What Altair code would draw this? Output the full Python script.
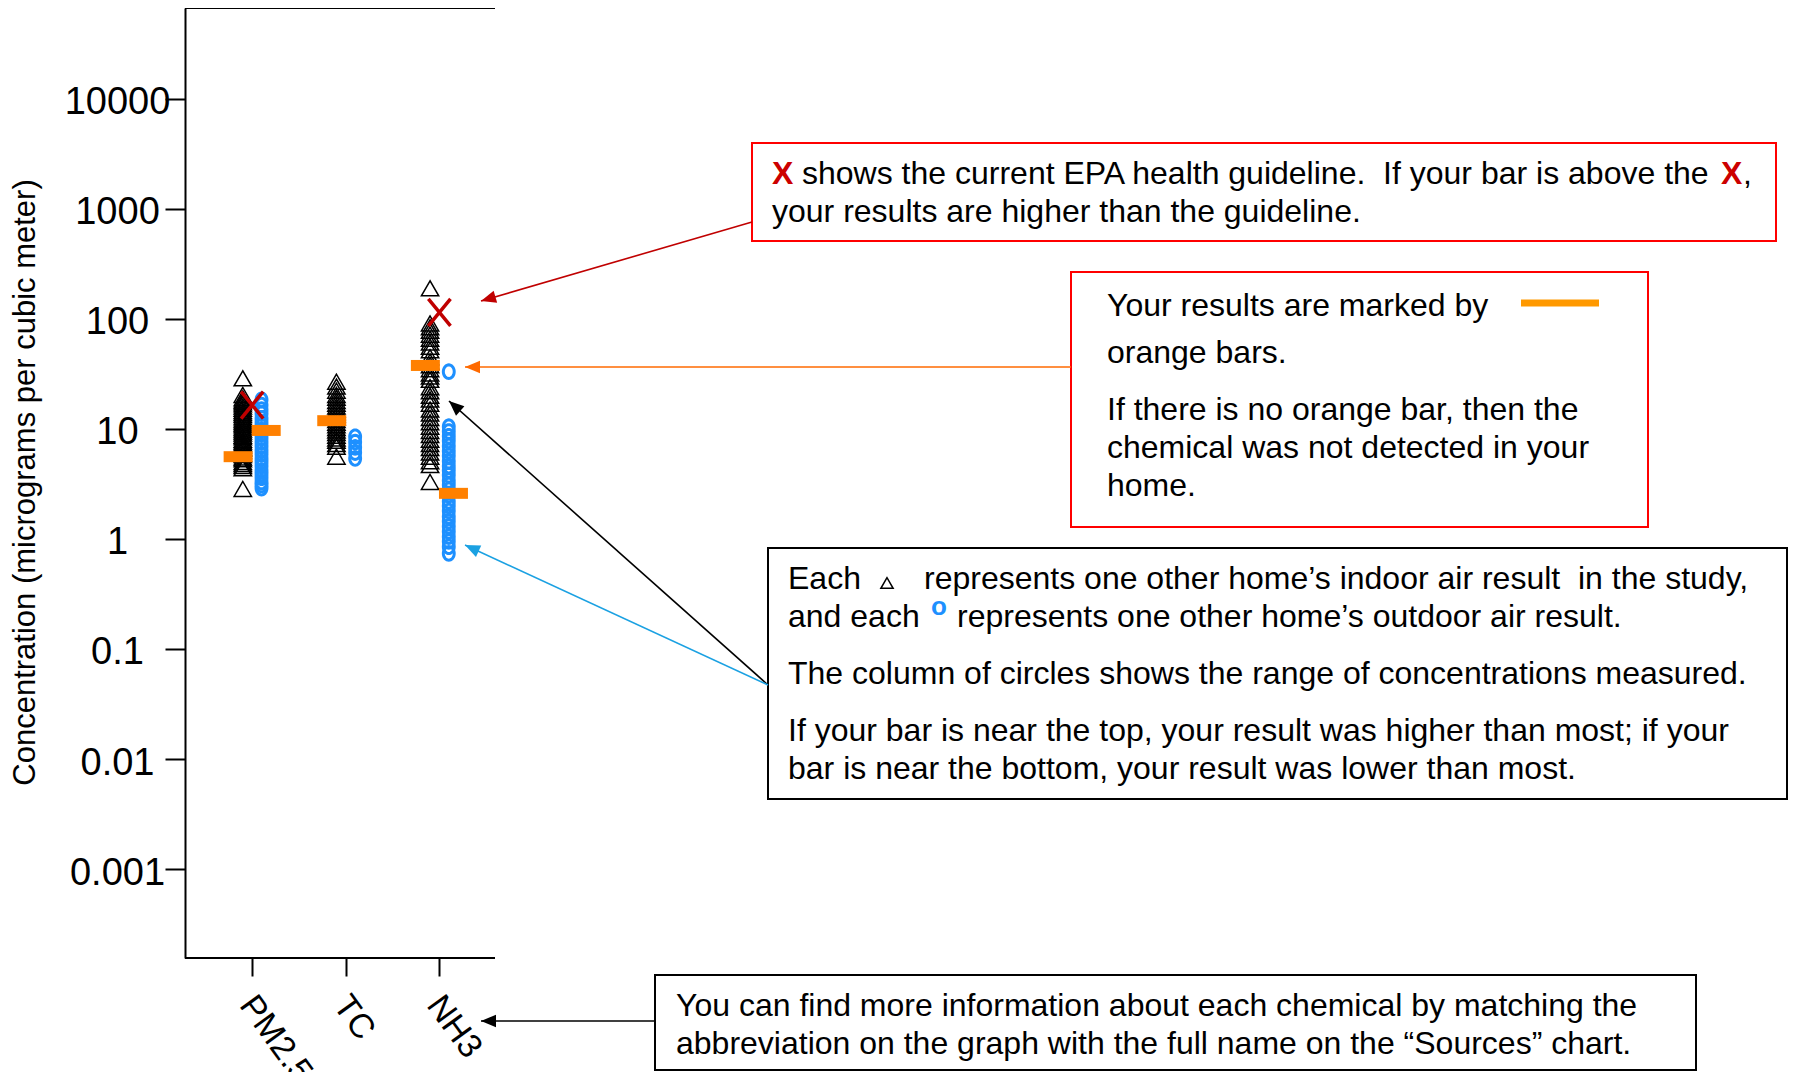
import math
import altair as alt
import pandas as pd

# ---------------- data ----------------
categories = ["PM2.5", "TC", "NH3"]

indoor_pm25 = [28.9, 20.4, 19.0, 18.2, 17.5, 16.8, 16.0, 15.3, 14.6, 14.0, 13.4, 12.8, 12.2,
               11.7, 11.2, 10.8, 10.3, 9.9, 9.5, 9.1, 8.7, 8.4, 8.0, 7.7, 7.4, 7.1, 6.8, 6.6,
               6.3, 6.0, 5.8, 5.5, 5.3, 5.0, 4.8, 4.6, 4.4, 2.85]
outdoor_pm25 = [18.4, 16.5, 15.0, 13.8, 12.5, 11.5, 10.6, 9.8, 9.0, 8.3, 7.6, 7.0, 6.4, 5.9,
                5.4, 5.0, 4.6, 4.2, 3.9, 3.6, 3.3, 3.1, 2.9]
indoor_tc = [26.9, 24.3, 22.3, 20.4, 19.2, 18.0, 17.0, 16.0, 15.1, 14.3, 13.5, 12.8, 12.1,
             11.4, 10.8, 10.2, 9.7, 9.2, 8.7, 8.2, 7.8, 7.3, 6.9, 5.6]
outdoor_tc = [8.5, 7.6, 6.8, 6.1, 5.4]
indoor_nh3 = [190, 91, 84, 78, 72, 66, 61, 56, 52, 45, 41, 38, 35, 32, 30, 28, 24, 22, 20,
              18.5, 17, 15, 13.8, 12.6, 11.5, 10.5, 9.6, 8.8, 8.0, 7.3, 6.7, 6.1, 5.6, 5.1,
              4.7, 3.3]
outdoor_nh3 = [33.2, 10.5, 9.5, 8.6, 7.8, 7.0, 6.3, 5.7, 5.1, 4.6, 4.2, 3.8, 3.4, 3.1, 2.8,
               2.5, 2.2, 2.0, 1.8, 1.6, 1.45, 1.3, 1.17, 1.05, 0.95, 0.85, 0.74]

your_indoor = [5.6, 11.9, 37.8]
your_outdoor = [9.7, None, 2.6]
guideline = [16.5, None, 115]

y_tick_values = [0.001, 0.01, 0.1, 1, 10, 100, 1000, 10000]
y_title = "Concentration (micrograms per cubic meter)"

# ---------------- build tables ----------------
OFFSET = {"indoor": -0.1, "outdoor": 0.1}
BAR_OFFSET = {"indoor": -0.15, "outdoor": 0.15}

rows = []
for i, (ind, outd) in enumerate([(indoor_pm25, outdoor_pm25), (indoor_tc, outdoor_tc),
                                  (indoor_nh3, outdoor_nh3)]):
    for v in ind:
        rows.append({"cat": i + 1, "loc": "indoor", "value": v})
    for v in outd:
        rows.append({"cat": i + 1, "loc": "outdoor", "value": v})
others = pd.DataFrame(rows)
others["pos"] = others["cat"] + others["loc"].map(OFFSET)

bars = []
for i in range(3):
    if your_indoor[i] is not None:
        bars.append({"cat": i + 1, "loc": "indoor", "value": your_indoor[i]})
    if your_outdoor[i] is not None:
        bars.append({"cat": i + 1, "loc": "outdoor", "value": your_outdoor[i]})
bars = pd.DataFrame(bars)
bars["pos"] = bars["cat"] + bars["loc"].map(BAR_OFFSET)

guide = pd.DataFrame([{"pos": i + 1, "value": g} for i, g in enumerate(guideline) if g is not None])

# ---------------- scales / axes ----------------
x_scale = alt.Scale(domain=[0.2827, 17.414], nice=False, zero=False)
y_scale = alt.Scale(type="log", domain=[10 ** -3.809, 10 ** 4.827], nice=False)

label_expr = "[" + ",".join("'%s'" % c for c in categories) + "][datum.value - 1]"

x_axis = alt.Axis(values=[1, 2, 3], labelExpr=label_expr, domain=False, grid=False,
                  ticks=True, tickSize=18, tickWidth=2, tickColor="black",
                  labelAngle=54, labelAlign="left", labelBaseline="middle", labelPadding=23,
                  labelOffset=-6, labelFontSize=34, labelFont="Liberation Sans",
                  labelColor="black", labelOverlap=False, labelFlush=False, title=None)
y_axis = alt.Axis(values=y_tick_values, format="~g", grid=False, domain=True,
                  domainColor="black", domainWidth=2, tickSize=20, tickWidth=2,
                  tickColor="black", labelFontSize=38, labelAlign="center", labelPadding=48,
                  labelOffset=4, labelFont="Liberation Sans", labelColor="black",
                  labelOverlap=False, labelFlush=False, title=y_title, titleFontSize=31,
                  titleFont="Liberation Sans", titleFontWeight="normal", titleX=-160,
                  titleY=474, titleAngle=270, titleAlign="center", titleBaseline="middle",
                  titleColor="black")

X_ENC = alt.X("pos:Q", scale=x_scale, axis=x_axis)
Y_ENC = alt.Y("value:Q", scale=y_scale, axis=y_axis)

tri = alt.Chart(others[others["loc"] == "indoor"]).mark_point(
    shape="triangle-up", filled=False, color="black", strokeWidth=1.5, size=300, opacity=1
).encode(x=X_ENC, y=Y_ENC)

# slightly tall "o" outline (unit symbol path)
ellipse_pts = [(0.8 * math.sin(2 * math.pi * k / 36), -math.cos(2 * math.pi * k / 36))
               for k in range(36)]
ellipse = "M" + "L".join("%.3f,%.3f" % p for p in ellipse_pts) + "Z"

circ = alt.Chart(others[others["loc"] == "outdoor"]).mark_point(
    shape=ellipse, filled=False, color="#1E90FF", strokeWidth=3, size=185, opacity=1
).encode(x=X_ENC, y=Y_ENC)

bar = alt.Chart(bars).mark_tick(
    orient="horizontal", color="#FF8000", thickness=11, size=29, opacity=1
).encode(x=X_ENC, y=Y_ENC)

xmark = alt.Chart(guide).mark_point(
    shape="M-0.82,-1L0.82,1M0.82,-1L-0.82,1", filled=False, color="#C00000",
    strokeWidth=3.5, size=729, opacity=1
).encode(x=X_ENC, y=Y_ENC)

data_layers = alt.layer(tri, circ, bar, xmark)

# ---------------- frame (top / bottom lines) ----------------
frame = pd.DataFrame({"x1": [0, 0], "x2": [310, 310], "y1": [0, 950]})
frame_rules = alt.Chart(frame).mark_rule(color="black", strokeWidth=2).encode(
    x=alt.X("x1:Q", scale=None, axis=None), x2="x2:Q",
    y=alt.Y("y1:Q", scale=None, axis=None))

# ---------------- annotations (pixel positions) ----------------
FONT = "Liberation Sans"
FS = 32
NB = "\u00a0"

boxes = pd.DataFrame({
    "x1": [567, 886, 583, 470],
    "x2": [1591, 1463, 1602, 1511],
    "y1": [135, 264, 540, 967],
    "y2": [233, 519, 791, 1062],
    "col": ["#FF0000", "#FF0000", "black", "black"],
})
box_layer = alt.Chart(boxes).mark_rect(filled=False, strokeWidth=2).encode(
    x=alt.X("x1:Q", scale=None, axis=None), x2="x2:Q",
    y=alt.Y("y1:Q", scale=None, axis=None), y2="y2:Q",
    color=alt.Color("col:N", scale=None))

texts = pd.DataFrame([
    {"t": "shows the current EPA health guideline." + NB + " If your bar is above the", "x": 617, "y": 166},
    {"t": ",", "x": 1558, "y": 166},
    {"t": "your results are higher than the guideline.", "x": 587, "y": 204},
    {"t": "Your results are marked by", "x": 922, "y": 298},
    {"t": "orange bars.", "x": 922, "y": 345},
    {"t": "If there is no orange bar, then the", "x": 922, "y": 402},
    {"t": "chemical was not detected in your", "x": 922, "y": 440},
    {"t": "home.", "x": 922, "y": 478},
    {"t": "Each", "x": 603, "y": 571},
    {"t": "represents one other home\u2019s indoor air result" + NB + " in the study,", "x": 739, "y": 571},
    {"t": "and each", "x": 603, "y": 609},
    {"t": "represents one other home\u2019s outdoor air result.", "x": 772, "y": 609},
    {"t": "The column of circles shows the range of concentrations measured.", "x": 603, "y": 666},
    {"t": "If your bar is near the top, your result was higher than most; if your", "x": 603, "y": 723},
    {"t": "bar is near the bottom, your result was lower than most.", "x": 603, "y": 761},
    {"t": "You can find more information about each chemical by matching the", "x": 491, "y": 998},
    {"t": "abbreviation on the graph with the full name on the \u201cSources\u201d chart.", "x": 491, "y": 1036},
])
text_layer = alt.Chart(texts).mark_text(
    align="left", baseline="middle", font=FONT, fontSize=FS, color="black"
).encode(x=alt.X("x:Q", scale=None, axis=None), y=alt.Y("y:Q", scale=None, axis=None),
         text="t:N")

red_x = pd.DataFrame({"t": ["X", "X"], "x": [587, 1536], "y": [166, 166]})
red_x_layer = alt.Chart(red_x).mark_text(
    align="left", baseline="middle", font=FONT, fontSize=FS, fontWeight="bold", color="#CC0000"
).encode(x=alt.X("x:Q", scale=None, axis=None), y=alt.Y("y:Q", scale=None, axis=None),
         text="t:N")

blue_o = pd.DataFrame({"t": ["o"], "x": [746], "y": [599]})
blue_o_layer = alt.Chart(blue_o).mark_text(
    align="left", baseline="middle", font=FONT, fontSize=26, fontWeight="bold", color="#1E90FF"
).encode(x=alt.X("x:Q", scale=None, axis=None), y=alt.Y("y:Q", scale=None, axis=None),
         text="t:N")

tri_sym = pd.DataFrame({"x": [702], "y": [575]})
tri_sym_layer = alt.Chart(tri_sym).mark_point(
    shape="triangle-up", filled=False, color="black", strokeWidth=1.5, size=150, opacity=1
).encode(x=alt.X("x:Q", scale=None, axis=None), y=alt.Y("y:Q", scale=None, axis=None))

legend_line = pd.DataFrame({"x1": [1336], "x2": [1414], "y": [295]})
legend_layer = alt.Chart(legend_line).mark_rule(color="#FF9900", strokeWidth=7).encode(
    x=alt.X("x1:Q", scale=None, axis=None), x2="x2:Q",
    y=alt.Y("y:Q", scale=None, axis=None))

arrows = pd.DataFrame({
    "x1": [567, 886, 583, 583, 470],
    "y1": [214, 359, 677, 677, 1013],
    "x2": [296, 280, 264, 280, 296],
    "y2": [293, 359, 393, 537, 1013],
    "col": ["#C00000", "#FF6A00", "black", "#1BA1E2", "black"],
})
arrows["ang"] = [
    (math.degrees(math.atan2(x2 - x1, -(y2 - y1))) + 360) % 360
    for x1, y1, x2, y2 in zip(arrows.x1, arrows.y1, arrows.x2, arrows.y2)
]
arrow_lines = alt.Chart(arrows).mark_rule(strokeWidth=1.6).encode(
    x=alt.X("x1:Q", scale=None, axis=None), x2="x2:Q",
    y=alt.Y("y1:Q", scale=None, axis=None), y2="y2:Q",
    color=alt.Color("col:N", scale=None))
arrow_heads = alt.Chart(arrows).mark_point(
    shape="M0,0L-0.42,1L0.42,1Z", filled=True, size=900, opacity=1
).encode(
    x=alt.X("x2:Q", scale=None, axis=None), y=alt.Y("y2:Q", scale=None, axis=None),
    color=alt.Color("col:N", scale=None), angle=alt.Angle("ang:Q", scale=None))

annot_layers = alt.layer(
    frame_rules, box_layer, text_layer, red_x_layer, blue_o_layer, tri_sym_layer,
    legend_layer, arrow_lines, arrow_heads
)

chart = alt.layer(data_layers, annot_layers).resolve_scale(
    x="independent", y="independent", color="independent", angle="independent"
).resolve_axis(x="independent", y="independent").properties(
    width=1604, height=950,
    padding={"left": 177, "top": 0, "right": 0, "bottom": 114},
    autosize="none", background="white"
).configure_view(stroke=None)

chart.save("out.html", embed_options={"renderer": "svg", "actions": False})
